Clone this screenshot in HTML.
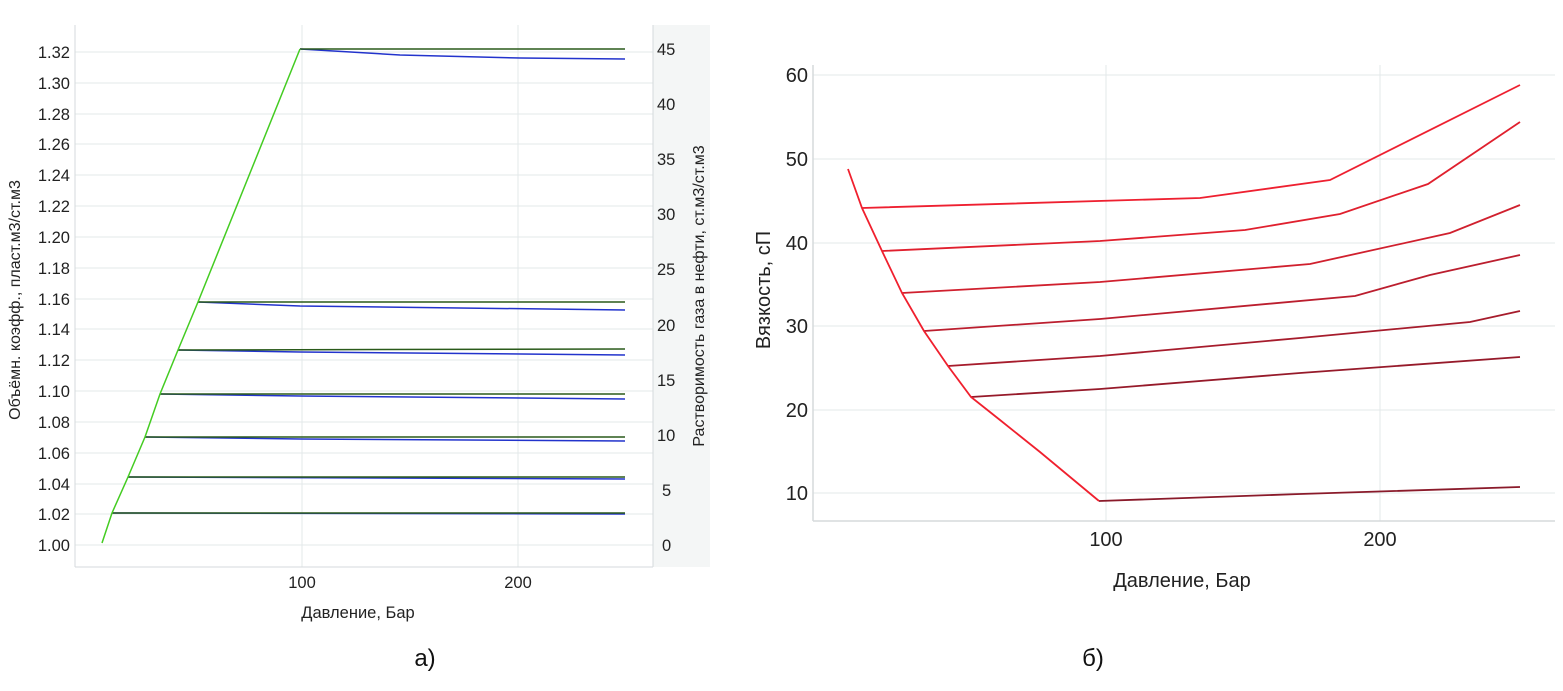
<!DOCTYPE html>
<html><head><meta charset="utf-8"><style>
body{margin:0;background:#fff;}
svg{display:block;font-family:"Liberation Sans",Arial,sans-serif;}
</style></head><body>
<svg width="1563" height="691" viewBox="0 0 1563 691" xmlns="http://www.w3.org/2000/svg">
<!-- LEFT CHART -->
<rect x="653" y="25" width="57" height="542" fill="#f4f6f6"/>
<g stroke="#e3e8ea" stroke-width="1">
<line x1="75" x2="653" y1="52" y2="52"/><line x1="75" x2="653" y1="83" y2="83"/><line x1="75" x2="653" y1="114" y2="114"/><line x1="75" x2="653" y1="144" y2="144"/><line x1="75" x2="653" y1="175" y2="175"/><line x1="75" x2="653" y1="206" y2="206"/><line x1="75" x2="653" y1="237" y2="237"/><line x1="75" x2="653" y1="268" y2="268"/><line x1="75" x2="653" y1="299" y2="299"/><line x1="75" x2="653" y1="329" y2="329"/><line x1="75" x2="653" y1="360" y2="360"/><line x1="75" x2="653" y1="391" y2="391"/><line x1="75" x2="653" y1="422" y2="422"/><line x1="75" x2="653" y1="453" y2="453"/><line x1="75" x2="653" y1="484" y2="484"/><line x1="75" x2="653" y1="514" y2="514"/><line x1="75" x2="653" y1="545" y2="545"/>
<line x1="302" x2="302" y1="25" y2="567"/><line x1="518" x2="518" y1="25" y2="567"/>
</g>
<line x1="75" x2="75" y1="25" y2="567" stroke="#d5dadc"/>
<line x1="75" x2="653" y1="567" y2="567" stroke="#d5dadc"/>
<line x1="653" x2="653" y1="25" y2="567" stroke="#d5dadc"/>
<g font-size="16.5" fill="#222" text-anchor="end">
<text x="70" y="58">1.32</text><text x="70" y="89">1.30</text><text x="70" y="120">1.28</text><text x="70" y="150">1.26</text><text x="70" y="181">1.24</text><text x="70" y="212">1.22</text><text x="70" y="243">1.20</text><text x="70" y="274">1.18</text><text x="70" y="305">1.16</text><text x="70" y="335">1.14</text><text x="70" y="366">1.12</text><text x="70" y="397">1.10</text><text x="70" y="428">1.08</text><text x="70" y="459">1.06</text><text x="70" y="490">1.04</text><text x="70" y="520">1.02</text><text x="70" y="551">1.00</text>
</g>
<g font-size="16.5" fill="#222">
<text x="657" y="55">45</text><text x="657" y="110">40</text><text x="657" y="165">35</text><text x="657" y="220">30</text><text x="657" y="275">25</text><text x="657" y="331">20</text><text x="657" y="386">15</text><text x="657" y="441">10</text><text x="662" y="496">5</text><text x="662" y="551">0</text>
</g>
<g font-size="16.5" fill="#222" text-anchor="middle">
<text x="302" y="588">100</text><text x="518" y="588">200</text>
<text x="358" y="618">Давление, Бар</text>
</g>
<text transform="translate(20,300) rotate(-90)" font-size="16" fill="#222" text-anchor="middle">Объёмн. коэфф., пласт.м3/ст.м3</text>
<text transform="translate(704,296) rotate(-90)" font-size="16" fill="#222" text-anchor="middle">Растворимость газа в нефти, ст.м3/ст.м3</text>
<g fill="none" stroke-width="1.5">
<g stroke="#2233cc">
<polyline points="300,49 400,55 520,58 625,59"/>
<polyline points="198,302 300,306 625,310"/>
<polyline points="178,350 300,352 625,355"/>
<polyline points="160,394 300,396 625,399"/>
<polyline points="145,437 300,439 625,441"/>
<polyline points="128,477 625,479"/>
<polyline points="112,513 625,514"/>
</g>
<g stroke="#2a5a1a">
<line x1="300" y1="49" x2="625" y2="49"/>
<line x1="198" y1="302" x2="625" y2="302"/>
<line x1="178" y1="350" x2="625" y2="349"/>
<line x1="160" y1="394" x2="625" y2="394"/>
<line x1="145" y1="437" x2="625" y2="437"/>
<line x1="128" y1="477" x2="625" y2="477"/>
<line x1="112" y1="513" x2="625" y2="513"/>
</g>
<polyline stroke="#44cc22" points="102,543 112,513 128,477 145,437 160,394 178,350 198,302 300,49"/>
</g>
<text x="425" y="666" font-size="24" fill="#111" text-anchor="middle">а)</text>

<!-- RIGHT CHART -->
<g stroke="#e3e8ea" stroke-width="1">
<line x1="813" x2="1555" y1="75" y2="75"/><line x1="813" x2="1555" y1="159" y2="159"/><line x1="813" x2="1555" y1="243" y2="243"/><line x1="813" x2="1555" y1="326" y2="326"/><line x1="813" x2="1555" y1="410" y2="410"/><line x1="813" x2="1555" y1="493" y2="493"/>
<line x1="1106" x2="1106" y1="65" y2="521"/><line x1="1380" x2="1380" y1="65" y2="521"/>
</g>
<line x1="813" x2="813" y1="65" y2="521" stroke="#d5dadc" stroke-width="1.5"/>
<line x1="813" x2="1555" y1="521" y2="521" stroke="#d5dadc" stroke-width="1.5"/>
<g font-size="20" fill="#222" text-anchor="end">
<text x="808" y="82">60</text><text x="808" y="166">50</text><text x="808" y="250">40</text><text x="808" y="333">30</text><text x="808" y="417">20</text><text x="808" y="500">10</text>
</g>
<g font-size="20" fill="#222" text-anchor="middle">
<text x="1106" y="546">100</text><text x="1380" y="546">200</text>
<text x="1182" y="587">Давление, Бар</text>
</g>
<text transform="translate(770,290) rotate(-90)" font-size="20" fill="#222" text-anchor="middle">Вязкость, сП</text>
<g fill="none" stroke-width="1.8">
<polyline stroke="#ee2030" points="862,208 1200,198 1330,180 1520,85"/>
<polyline stroke="#e0202e" points="882,251 1100,241 1245,230 1340,214 1428,184 1520,122"/>
<polyline stroke="#d0202e" points="902,293 1100,282 1310,264 1450,233 1520,205"/>
<polyline stroke="#bb1e2e" points="924,331 1100,319 1355,296 1430,275 1520,255"/>
<polyline stroke="#a61c2c" points="948,366 1100,356 1300,338 1470,322 1520,311"/>
<polyline stroke="#961a2a" points="971,397 1100,389 1300,373 1520,357"/>
<polyline stroke="#8a1a2a" points="1099,501 1300,494 1520,487"/>
<polyline stroke="#f0202e" points="848,169 862,208 882,251 902,293 924,331 948,366 971,397 1000,420 1040,452 1099,501"/>
</g>
<text x="1093" y="666" font-size="24" fill="#111" text-anchor="middle">б)</text>
</svg>
</body></html>
